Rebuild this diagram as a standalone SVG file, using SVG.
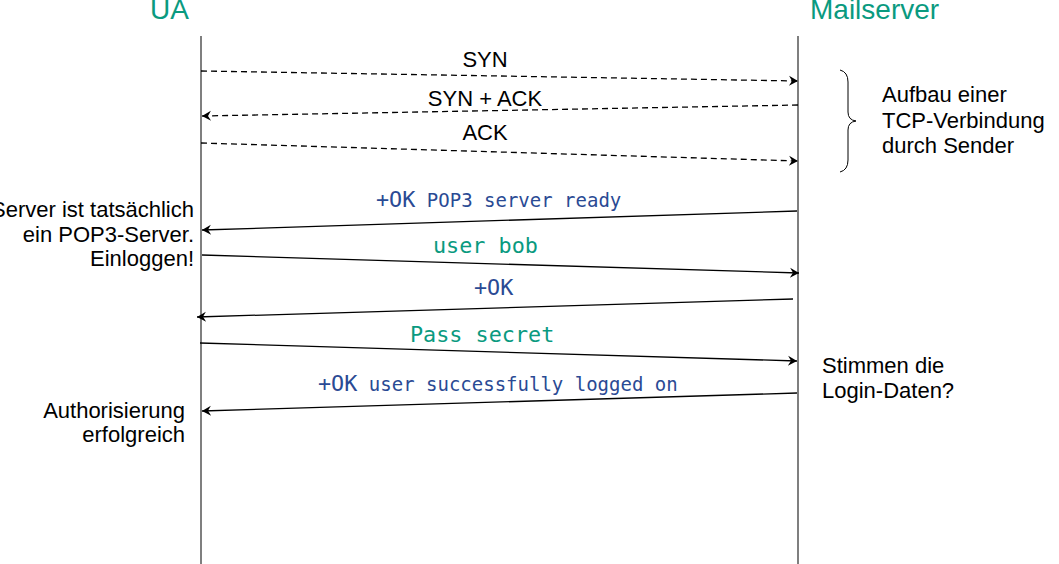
<svg xmlns="http://www.w3.org/2000/svg" width="1059" height="564" viewBox="0 0 1059 564">
<style>
.t{font-family:"Liberation Sans",Arial,sans-serif;font-size:22px;fill:#000}
.title{font-family:"Liberation Sans",Arial,sans-serif;font-size:28px;fill:#0a9a7f}
.m{font-family:"DejaVu Sans Mono",monospace}
.big{font-size:21.8px}
.sm{font-size:19px}
.blue{fill:#2a4a94}
.green{fill:#0a9a7f}
.life{stroke:#555;stroke-width:1.5;fill:none}
.msg{stroke:#000;stroke-width:1.3;fill:none;marker-end:url(#ah)}
.dash{stroke-dasharray:6 4}
</style>
<defs>
<marker id="ah" markerWidth="12" markerHeight="12" refX="10" refY="6" orient="auto" markerUnits="userSpaceOnUse">
<path d="M1,1 L10,6 L1,11 L4,6 Z" fill="#000"/>
</marker>
</defs>
<g id="ua">
<text class="title" x="150" y="19">UA</text>
<line class="life" x1="201" y1="36" x2="201" y2="564"/>
</g>
<g id="mailserver">
<text class="title" x="810" y="19">Mailserver</text>
<line class="life" x1="798" y1="36" x2="798" y2="564"/>
</g>
<g id="connectors">
<line class="msg dash" x1="201" y1="71" x2="798" y2="81"/>
<line class="msg dash" x1="798" y1="105" x2="202" y2="116"/>
<line class="msg dash" x1="201" y1="143" x2="798" y2="161"/>
<line class="msg" x1="797" y1="211" x2="202" y2="230"/>
<line class="msg" x1="202" y1="255" x2="799" y2="273"/>
<line class="msg" x1="793" y1="299" x2="197" y2="317"/>
<line class="msg" x1="200" y1="343" x2="797" y2="361"/>
<line class="msg" x1="797" y1="393" x2="202" y2="411"/>
</g>
<g id="labels">
<text class="t" x="485" y="67" text-anchor="middle">SYN</text>
<text class="t" x="485" y="106" text-anchor="middle">SYN + ACK</text>
<text class="t" x="485" y="140" text-anchor="middle">ACK</text>
<text x="376" y="207" class="m blue"><tspan class="big">+OK</tspan><tspan class="sm"> POP3 server ready</tspan></text>
<text x="433" y="253" class="m green big">user bob</text>
<text x="474" y="295" class="m blue big">+OK</text>
<text x="410" y="342" class="m green big">Pass secret</text>
<text x="318" y="391" class="m blue"><tspan class="big">+OK</tspan><tspan class="sm"> user successfully logged on</tspan></text>
</g>
<g id="note-server">
<text class="t" text-anchor="end" x="194" y="217">Server ist tatsächlich</text>
<text class="t" text-anchor="end" x="194" y="242">ein POP3-Server.</text>
<text class="t" text-anchor="end" x="194" y="266">Einloggen!</text>
</g>
<g id="note-auth">
<text class="t" text-anchor="end" x="185" y="418">Authorisierung</text>
<text class="t" text-anchor="end" x="185" y="442">erfolgreich</text>
</g>
<g id="note-login">
<text class="t" x="822" y="373">Stimmen die</text>
<text class="t" x="822" y="398">Login-Daten?</text>
</g>
<g id="note-tcp">
<path d="M840,70 Q848,72 848,82 L848,112 Q848,120 856,121 Q848,122 848,130 L848,160 Q848,170 840,172" fill="none" stroke="#000" stroke-width="1"/>
<text class="t" x="882" y="102">Aufbau einer</text>
<text class="t" x="882" y="128">TCP-Verbindung</text>
<text class="t" x="882" y="153">durch Sender</text>
</g>
</svg>
